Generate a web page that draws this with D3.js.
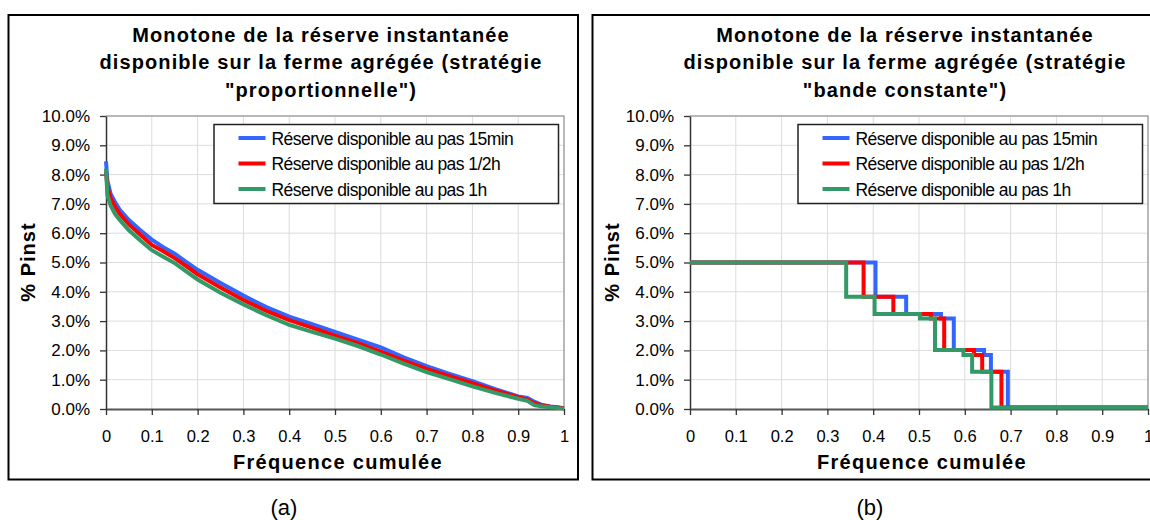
<!DOCTYPE html>
<html><head><meta charset="utf-8">
<script src="https://cdn.jsdelivr.net/npm/d3@7"></script>
<style>
html,body{margin:0;padding:0;background:#fff;}
text{font-family:Arial,"Liberation Sans",sans-serif;fill:#000;}
</style></head>
<body><svg id="c" width="1150" height="520"></svg>
<script>
// ---------- data ----------
const seriesNames = ["Réserve disponible au pas 15min","Réserve disponible au pas 1/2h","Réserve disponible au pas 1h"];
const seriesColors = ["#3366FF","#FF0000","#339966"];
const xTicks = [0,0.1,0.2,0.3,0.4,0.5,0.6,0.7,0.8,0.9,1];
const xTickLabels = ["0","0.1","0.2","0.3","0.4","0.5","0.6","0.7","0.8","0.9","1"];
const yTicks = [0,1,2,3,4,5,6,7,8,9,10];
const yTickLabels = ["0.0%","1.0%","2.0%","3.0%","4.0%","5.0%","6.0%","7.0%","8.0%","9.0%","10.0%"];
const titleA = ["Monotone de la réserve instantanée","disponible sur la ferme agrégée (stratégie","\"proportionnelle\")"];
const titleB = ["Monotone de la réserve instantanée","disponible sur la ferme agrégée (stratégie","\"bande constante\")"];
const xTitle = "Fréquence cumulée";
const yTitle = "% Pinst";
const panelLabels = ["(a)","(b)"];

// panel (a): cumulative frequency vs % Pinst
const freqA = [0,0.003,0.01,0.02,0.03,0.05,0.075,0.1,0.125,0.15,0.175,0.2,0.25,0.3,0.35,0.4,0.45,0.5,0.55,0.6,0.65,0.7,0.75,0.8,0.85,0.9,0.92,0.935,0.95,0.97,0.99,1];
const a15min = [8.45,7.8,7.35,7.05,6.8,6.45,6.1,5.78,5.52,5.3,5.02,4.75,4.3,3.87,3.48,3.15,2.9,2.63,2.37,2.1,1.76,1.46,1.2,0.95,0.68,0.43,0.38,0.25,0.15,0.09,0.05,0.03];
const a30min = [8.1,7.6,7.2,6.9,6.65,6.3,5.95,5.6,5.38,5.15,4.88,4.6,4.15,3.72,3.35,3.03,2.78,2.5,2.25,1.96,1.65,1.37,1.12,0.88,0.63,0.4,0.33,0.2,0.13,0.08,0.04,0.03];
const a1h = [8.2,7.3,6.95,6.65,6.45,6.1,5.75,5.42,5.2,4.98,4.7,4.42,3.97,3.57,3.2,2.87,2.63,2.4,2.15,1.86,1.55,1.26,1.02,0.77,0.55,0.35,0.28,0.13,0.09,0.06,0.03,0.02];

// panel (b): step breakpoints (step after)
const b15minX = [0,0.405,0.472,0.548,0.576,0.642,0.657,0.694,1];
const b15minY = [5.0,3.83,3.24,3.09,2.01,1.84,1.27,0.05,0.05];
const b30minX = [0,0.379,0.444,0.526,0.555,0.620,0.638,0.680,1];
const b30minY = [5.0,3.83,3.24,3.09,2.01,1.84,1.27,0.05,0.05];
const b1hX = [0,0.341,0.403,0.502,0.535,0.597,0.616,0.658,1];
const b1hY = [5.0,3.83,3.24,3.09,2.01,1.84,1.27,0.05,0.05];

// ---------- drawing ----------
const svg = d3.select("#c");
const zip = (xs, ys) => xs.map((x,i)=>({x, y: ys[i]}));

const panels = [
  {ox:0, title:titleA, label:panelLabels[0], curve:d3.curveLinear,
   data:[zip(freqA,a15min), zip(freqA,a30min), zip(freqA,a1h)]},
  {ox:584, title:titleB, label:panelLabels[1], curve:d3.curveStepAfter,
   data:[zip(b15minX,b15minY), zip(b30minX,b30minY), zip(b1hX,b1hY)]}
];

panels.forEach(p => {
  const g = svg.append("g").attr("transform", `translate(${p.ox},0)`);
  // outer frame
  g.append("rect").attr("x",8.5).attr("y",15).attr("width",569.5).attr("height",464.5)
    .attr("fill","#fff").attr("stroke","#000").attr("stroke-width",2);

  const x = d3.scaleLinear().domain([0,1]).range([106,564]);
  const y = d3.scaleLinear().domain([0,10]).range([409,116]);

  // grid
  g.append("g").selectAll("line.v").data(xTicks.slice(1)).join("line")
    .attr("x1",d=>x(d)).attr("x2",d=>x(d)).attr("y1",116).attr("y2",409)
    .attr("stroke","#dcdcdc").attr("stroke-width",1);
  g.append("g").selectAll("line.h").data(yTicks.slice(1)).join("line")
    .attr("x1",106).attr("x2",564).attr("y1",d=>y(d)).attr("y2",d=>y(d))
    .attr("stroke","#dcdcdc").attr("stroke-width",1);
  // plot area top/right border
  g.append("path").attr("d",`M106,116H564V409`).attr("fill","none")
    .attr("stroke","#a6a6a6").attr("stroke-width",1.5);

  // axes
  const yAxis = d3.axisLeft(y).tickValues(yTicks).tickFormat((d,i)=>yTickLabels[i])
    .tickSize(6).tickPadding(10).tickSizeOuter(0);
  const ya = g.append("g").attr("transform","translate(106,0)").call(yAxis);
  ya.select(".domain").attr("stroke","#333").attr("stroke-width",1.5);
  ya.selectAll(".tick line").attr("stroke","#333").attr("stroke-width",1.3);
  ya.selectAll("text").attr("font-size",17).attr("fill","#000");

  const xAxis = d3.axisBottom(x).tickValues(xTicks).tickFormat((d,i)=>xTickLabels[i])
    .tickSize(6).tickPadding(15).tickSizeOuter(0);
  const xa = g.append("g").attr("transform","translate(0,409)").call(xAxis);
  xa.select(".domain").attr("stroke","#555").attr("stroke-width",2);
  xa.selectAll(".tick line").attr("stroke","#333").attr("stroke-width",1.3);
  xa.selectAll("text").attr("font-size",16.5).attr("fill","#000");

  // series
  const line = d3.line().x(d=>x(d.x)).y(d=>y(d.y)).curve(p.curve);
  p.data.forEach((s,i)=>{
    g.append("path").datum(s).attr("d",line).attr("fill","none")
      .attr("stroke",seriesColors[i]).attr("stroke-width",4)
      .attr("stroke-linejoin","miter");
  });

  // title
  const tt = g.append("text").attr("text-anchor","middle").attr("font-weight","bold")
    .attr("font-size",20).attr("letter-spacing",1.1);
  p.title.forEach((t,i)=>{
    tt.append("tspan").attr("x",321).attr("y",41.5+i*27.8).text(t);
  });

  // axis titles
  g.append("text").attr("x",338).attr("y",468.5).attr("text-anchor","middle")
    .attr("font-weight","bold").attr("font-size",20).attr("letter-spacing",1.3).text(xTitle);
  g.append("text").attr("transform","translate(35,262) rotate(-90)").attr("text-anchor","middle")
    .attr("font-weight","bold").attr("font-size",20).attr("letter-spacing",1).text(yTitle);

  // legend
  const lg = g.append("g");
  lg.append("rect").attr("x",214).attr("y",124.5).attr("width",344.5).attr("height",79)
    .attr("fill","#fff").attr("stroke","#222").attr("stroke-width",1.5);
  seriesNames.forEach((n,i)=>{
    const cy = 138 + i*25.5;
    lg.append("line").attr("x1",238.5).attr("x2",265.5).attr("y1",cy).attr("y2",cy)
      .attr("stroke",seriesColors[i]).attr("stroke-width",4);
    lg.append("text").attr("x",271.5).attr("y",cy+6.5).attr("font-size",17.5)
      .attr("letter-spacing",-0.55).text(n);
  });

  // panel label
  g.append("text").attr("x",p.ox===0?284:286).attr("y",515).attr("text-anchor","middle")
    .attr("font-size",22).text(p.label);
});
</script>
</body></html>
